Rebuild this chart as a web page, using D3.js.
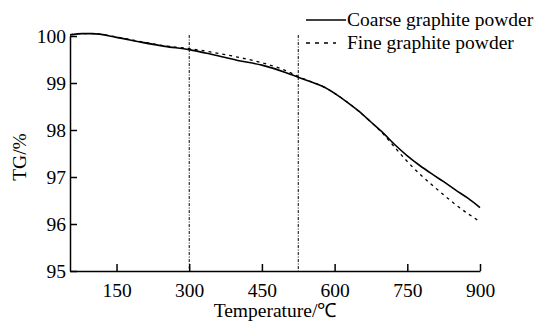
<!DOCTYPE html>
<html>
<head>
<meta charset="utf-8">
<script src="https://cdn.jsdelivr.net/npm/d3@7"></script>
<style>
  body { margin: 0; background: #fff; }
  svg { display: block; }
  text { font-family: "Liberation Serif", "Times New Roman", serif; fill: #000; }
</style>
</head>
<body>
<div id="chart"></div>
<script>
// temperature (°C) and TG (%)
const coarseTemp = [54, 80, 100, 150, 200, 250, 300, 350, 400, 450, 500, 525, 550, 575, 600, 625, 650, 675, 700, 725, 750, 775, 800, 825, 850, 875, 900];
const coarseTG = [100.02, 100.05, 100.05, 99.97, 99.87, 99.78, 99.71, 99.6, 99.48, 99.38, 99.22, 99.12, 99.03, 98.93, 98.78, 98.6, 98.4, 98.17, 97.94, 97.68, 97.45, 97.25, 97.07, 96.9, 96.72, 96.55, 96.35];

const fineTemp = [54, 80, 100, 150, 200, 250, 300, 350, 400, 450, 500, 525, 550, 575, 600, 625, 650, 675, 700, 725, 750, 775, 800, 825, 850, 875, 900];
const fineTG = [100.03, 100.05, 100.05, 99.98, 99.88, 99.79, 99.73, 99.65, 99.55, 99.43, 99.26, 99.14, 99.03, 98.93, 98.78, 98.6, 98.4, 98.17, 97.92, 97.62, 97.33, 97.07, 96.84, 96.62, 96.41, 96.22, 96.05];

const markTemps = [300, 525];
const xTicks = [150, 300, 450, 600, 750, 900];
const yTicks = [95, 96, 97, 98, 99, 100];
const legendLabels = ["Coarse graphite powder", "Fine graphite powder"];

const width = 539, height = 321;
const fontSize = 19.5;

const svg = d3.select("#chart").append("svg")
    .attr("width", width)
    .attr("height", height);

const x = d3.scaleLinear().domain([54, 900]).range([70, 480]);
const y = d3.scaleLinear().domain([95, 100]).range([271, 36]);

// axes, ticks point inward
const xAxis = svg.append("g")
    .attr("transform", `translate(0, ${y(95)})`)
    .call(d3.axisBottom(x).tickValues(xTicks).tickSizeInner(-7).tickSizeOuter(0).tickPadding(12));
const yAxis = svg.append("g")
    .attr("transform", `translate(${x(54)}, 0)`)
    .call(d3.axisLeft(y).tickValues(yTicks).tickFormat(d3.format("d")).tickSizeInner(-7).tickSizeOuter(0).tickPadding(4));

[xAxis, yAxis].forEach(g => {
    g.select(".domain").attr("stroke", "#000").attr("stroke-width", 1.5);
    g.selectAll(".tick line").attr("stroke", "#000").attr("stroke-width", 1.5);
    g.selectAll(".tick text")
        .style("font-family", '"Liberation Serif", serif')
        .style("font-size", `${fontSize}px`)
        .attr("fill", "#000");
});

// vertical marker lines
svg.selectAll("line.mark")
    .data(markTemps)
    .join("line")
    .attr("class", "mark")
    .attr("x1", d => x(d)).attr("x2", d => x(d))
    .attr("y1", y(100.02)).attr("y2", y(95))
    .attr("stroke", "#000")
    .attr("stroke-width", 1)
    .attr("stroke-dasharray", "3,1.5,1,1.5");

const line = d3.line()
    .x(d => x(d[0]))
    .y(d => y(d[1]))
    .curve(d3.curveMonotoneX);

svg.append("path")
    .datum(fineTemp.map((t, i) => [t, fineTG[i]]))
    .attr("d", line)
    .attr("fill", "none")
    .attr("stroke", "#000")
    .attr("stroke-width", 1.3)
    .attr("stroke-dasharray", "3,4");

svg.append("path")
    .datum(coarseTemp.map((t, i) => [t, coarseTG[i]]))
    .attr("d", line)
    .attr("fill", "none")
    .attr("stroke", "#000")
    .attr("stroke-width", 1.6);

// legend
const legend = svg.append("g");
legendLabels.forEach((label, i) => {
    const ly = 20 + i * 23;
    legend.append("line")
        .attr("x1", 306).attr("x2", i === 0 ? 346 : 336)
        .attr("y1", ly).attr("y2", ly)
        .attr("stroke", "#000")
        .attr("stroke-width", 1.5)
        .attr("stroke-dasharray", i === 0 ? null : "4,5");
    legend.append("text")
        .attr("x", 347)
        .attr("y", ly + 6)
        .style("font-size", `${fontSize}px`)
        .text(label);
});

// axis titles
svg.append("text")
    .attr("x", 275)
    .attr("y", 317)
    .attr("text-anchor", "middle")
    .style("font-size", `${fontSize}px`)
    .text("Temperature/℃");

svg.append("text")
    .attr("transform", "translate(26, 157) rotate(-90)")
    .attr("text-anchor", "middle")
    .style("font-size", `${fontSize}px`)
    .text("TG/%");
</script>
</body>
</html>
